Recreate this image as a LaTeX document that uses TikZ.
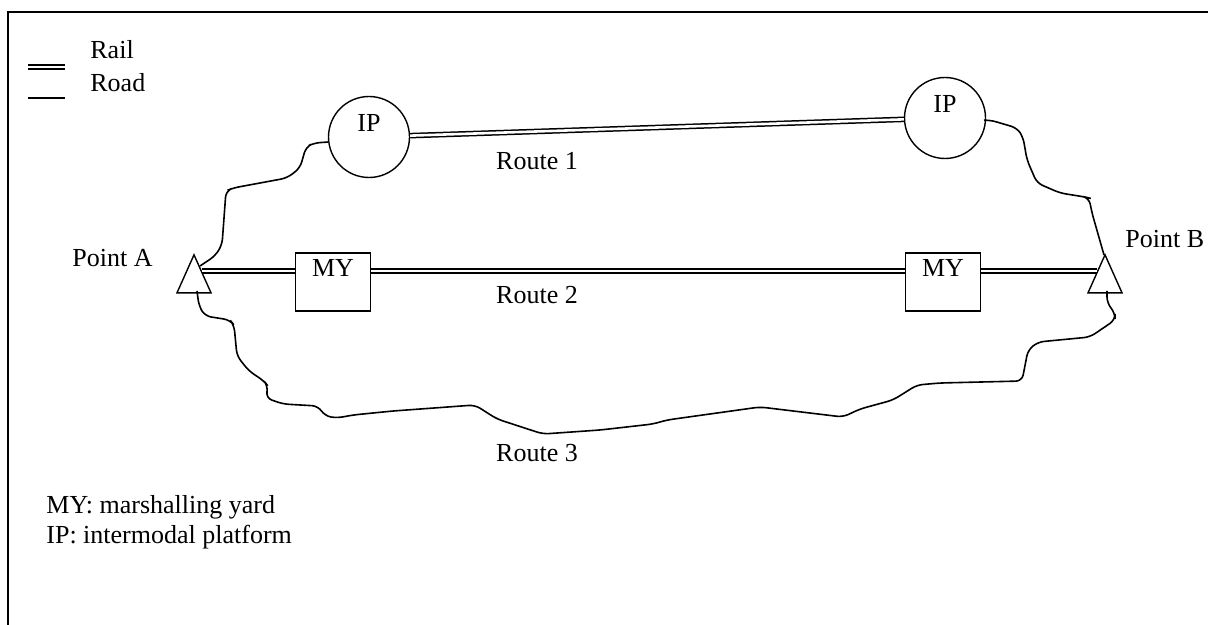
\documentclass[tikz,border=0pt]{standalone}
\usepackage{fontspec}
\setmainfont{Liberation Serif}
\usetikzlibrary{shapes.geometric}

\tikzset{
  rail/.style={double, double distance=1.3pt, line width=0.75pt},
  road/.style={line width=0.8pt, rounded corners=3pt},
  ipnode/.style={draw, circle, minimum size=40.5pt, inner sep=0pt, text height=9pt, text depth=14pt, line width=0.7pt},
  mynode/.style={draw, fill=white, minimum width=37.5pt, minimum height=29pt, inner sep=0pt, text height=9pt, text depth=14.5pt, line width=0.7pt},
  pnode/.style={draw, fill=white, isosceles triangle, isosceles triangle stretches, shape border rotate=90, minimum width=17pt, minimum height=19pt, inner sep=0pt, anchor=apex, line width=0.7pt},
  txt/.style={inner sep=0pt, anchor=base west},
}

\begin{document}
\begin{tikzpicture}[x=0.5pt, y=-0.5pt, font=\fontsize{13pt}{15pt}\selectfont]
\useasboundingbox (0,0) rectangle (1208,625);
% frame
\draw[line width=0.8pt] (8,625) -- (8,12) -- (1208,12);

% legend
\draw[rail] (28,67) -- (65,67);
\draw[line width=0.7pt] (28,98) -- (65,98);
\node[txt] (rail) at (90,59) {Rail};
\node[txt] (road) at (90,92) {Road};

% points and platforms
\node[pnode] (pa) at (194,253) {};
\node[pnode] (pb) at (1105,253) {};
\node[ipnode] (ipl) at (369,137) {IP};
\node[ipnode] (ipr) at (945,118) {IP};

% rail routes
\draw[rail] (ipl) -- (ipr);
\draw[rail] ([xshift=4pt,yshift=-9pt]pa.apex) -- ([xshift=-4pt,yshift=-9pt]pb.apex);
\node[mynode] (myl) at (333,282) {MY};
\node[mynode] (myr) at (943,282) {MY};

% roads
\draw[road] ([xshift=3pt,yshift=-6.5pt]pa.apex) -- (215,256) -- (222,245) -- (226,191)
  -- (233,188) -- (287,178) -- (300,168) -- (306,147) -- (314,143) -- (ipl.187);
\draw[road] (ipr.-3) -- (990,120) -- (1017,128) -- (1023,137) -- (1027,160) -- (1037,183)
  -- (1060,193) -- (1085,197) -- (1089,198) -- (1092,213) -- ([xshift=-0.5pt,yshift=-1pt]pb.apex);
\draw[road] ([xshift=1.5pt,yshift=-19pt]pa.apex) -- (199,306) -- (205,316) -- (230,320) -- (234,325)
  -- (237,356) -- (249,371) -- (264,381) -- (268,386) -- (266,398) -- (283,404) -- (318,406)
  -- (325,416) -- (337,418) -- (353,415) -- (393,411) -- (475,405) -- (497,419) -- (543,434)
  -- (600,430) -- (653,424) -- (667,420) -- (760,407) -- (843,417) -- (860,409) -- (893,400)
  -- (917,385) -- (940,383) -- (1022,381) -- (1028,350) -- (1038,342) -- (1090,337)
  -- (1115,320) -- (1115,313) -- (1107,303) -- ([xshift=1pt,yshift=-19pt]pb.apex);

% labels
\node[inner sep=0pt, anchor=base] (r1) at (537,170) {Route 1};
\node[inner sep=0pt, anchor=base] (r2) at (537,304) {Route 2};
\node[inner sep=0pt, anchor=base] (r3) at (537,461) {Route 3};
\node[txt] (pta) at (72,267) {Point A};
\node[txt] (ptb) at (1125,248) {Point B};
\node[txt] (lmy) at (46,513) {MY: marshalling yard};
\node[txt] (lip) at (46,543) {IP: intermodal platform};
\end{tikzpicture}
\end{document}
